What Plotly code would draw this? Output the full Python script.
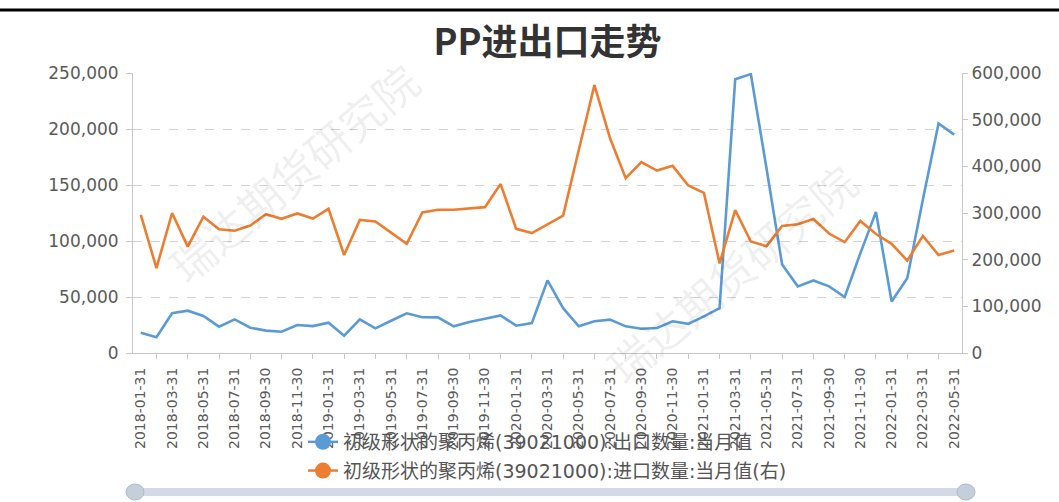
import pandas as pd
import plotly.graph_objects as go

dates = [d.strftime("%Y-%m-%d") for d in pd.date_range("2018-01-31", "2022-05-31", freq="ME")]

export_qty = [18000, 14000, 35500, 37800, 33000, 23500, 30000, 22600, 20000, 19000,
              25000, 24000, 27000, 15500, 30000, 22000, 28800, 35400, 31900, 31800,
              23800, 27700, 30600, 33600, 24400, 26800, 64800, 40000, 23800, 28300,
              29800, 23800, 21700, 22300, 28300, 26000, 32700, 40000, 244500, 249000,
              165000, 79000, 59500, 64800, 59500, 50000, 89000, 126000, 46000, 66800,
              137000, 205000, 195000]

import_qty = [296000, 182000, 300000, 228000, 292000, 265000, 262000, 273000, 297500, 287500,
              299000, 288000, 309000, 210000, 285000, 282000, 258000, 234000, 301000, 307000,
              307000, 310000, 312500, 362000, 266000, 257000, 276000, 294500, 435000, 574000,
              460000, 374500, 409000, 391000, 401000, 359000, 343000, 192000, 306000, 239000,
              229000, 272000, 276000, 287000, 256000, 237500, 283000, 255000, 234000, 198000,
              251000, 210000, 219600]

name_export = "初级形状的聚丙烯(39021000):出口数量:当月值"
name_import = "初级形状的聚丙烯(39021000):进口数量:当月值(右)"
title_text = "PP进出口走势"
watermark = "瑞达期货研究院"

BLUE = "#5B9BD5"
ORANGE = "#ED7D31"
CJK = "Noto Sans CJK SC"
WIDE = "DejaVu Sans, Noto Sans CJK SC"

idx = list(range(len(dates)))

fig = go.Figure()
fig.add_trace(go.Scatter(x=idx, y=export_qty, mode="lines", line=dict(color=BLUE, width=2.6),
                         showlegend=False, yaxis="y"))
fig.add_trace(go.Scatter(x=idx, y=import_qty, mode="lines", line=dict(color=ORANGE, width=2.6),
                         showlegend=False, yaxis="y2"))
# legend entries
fig.add_trace(go.Scatter(x=[None], y=[None], mode="lines+markers", name=name_export,
                         line=dict(color=BLUE, width=2.5), marker=dict(size=17, color=BLUE),
                         legendgroup="a"))
fig.add_trace(go.Scatter(x=[None], y=[None], mode="lines+markers", name=name_import,
                         line=dict(color=ORANGE, width=2.5), marker=dict(size=17, color=ORANGE),
                         legendgroup="b", yaxis="y2"))

L, R, T, B = 133, 97, 73, 149
W, H = 1059, 502
pw, ph = W - L - R, H - T - B

def px_x(x):
    return (x - L) / pw

def px_y(y):
    return (H - B - y) / ph

axis_col = "#c8c8c8"
tick_font = dict(family=WIDE, size=17, color="#5a5a5a")

fig.update_layout(
    width=W, height=H,
    margin=dict(l=L, r=R, t=T, b=B, autoexpand=False),
    paper_bgcolor="white", plot_bgcolor="white",
    font=dict(family=CJK),
    title=dict(text=title_text, x=0.5, xanchor="center", xref="paper",
               y=1 - 42 / H, yanchor="middle",
               font=dict(family=CJK, size=36, color="#333333", weight="bold")),
    xaxis=dict(range=[-0.5, len(dates) - 0.5], tickmode="array",
               tickvals=idx[::2], ticktext=dates[::2], tickangle=-90,
               ticks="", showline=True, linecolor=axis_col, linewidth=1,
               showgrid=False, zeroline=False, automargin=False, ticklabelstandoff=8,
               tickfont=dict(family=WIDE, size=14, color="#5a5a5a"),
               minor=dict(tickmode="array", tickvals=idx[1::2], ticks="outside",
                          ticklen=5, tickcolor=axis_col, showgrid=False)),
    yaxis=dict(range=[0, 250000], dtick=50000, tickformat=",", showline=True,
               linecolor=axis_col, ticks="outside", ticklen=6, tickcolor=axis_col,
               showgrid=True, gridcolor="#d3d3d3", griddash="dash", zeroline=False,
               automargin=False, ticklabelstandoff=4, tickfont=tick_font),
    yaxis2=dict(range=[0, 600000], dtick=100000, tickformat=",", overlaying="y", side="right",
                showline=True, linecolor=axis_col, ticks="outside", ticklen=5, tickcolor=axis_col,
                showgrid=False, zeroline=False, automargin=False, tickfont=tick_font),
    legend=dict(x=0.5, xanchor="center", y=px_y(423), yanchor="top", orientation="v",
                traceorder="grouped", tracegroupgap=1, bgcolor="rgba(0,0,0,0)",
                font=dict(family=WIDE, size=19, color="#555555")),
)

# watermarks
for cx, cy in [(293, 172), (731, 273)]:
    fig.add_annotation(text=watermark, xref="paper", yref="paper", x=px_x(cx), y=px_y(cy),
                       xanchor="center", yanchor="middle",
                       showarrow=False, textangle=-40,
                       font=dict(family=CJK, size=44, color="rgba(0,0,0,0.075)"))

# top border line
fig.add_shape(type="line", xref="paper", yref="paper", x0=px_x(0), x1=px_x(W),
              y0=px_y(10), y1=px_y(10), line=dict(color="black", width=3))

# data zoom slider decoration
fig.add_shape(type="rect", xref="paper", yref="paper", x0=px_x(135), x1=px_x(966),
              y0=px_y(496), y1=px_y(488), fillcolor="#d3dae6", line=dict(width=0))
for hx in (135, 966):
    fig.add_shape(type="circle", xref="paper", yref="paper",
                  x0=px_x(hx - 9), x1=px_x(hx + 9), y0=px_y(500), y1=px_y(484),
                  fillcolor="#c5cedb", line=dict(color="#b0bacb", width=1))

fig.write_html("out.html", config={"displayModeBar": False},
               post_script="document.body.style.margin='0px';")
